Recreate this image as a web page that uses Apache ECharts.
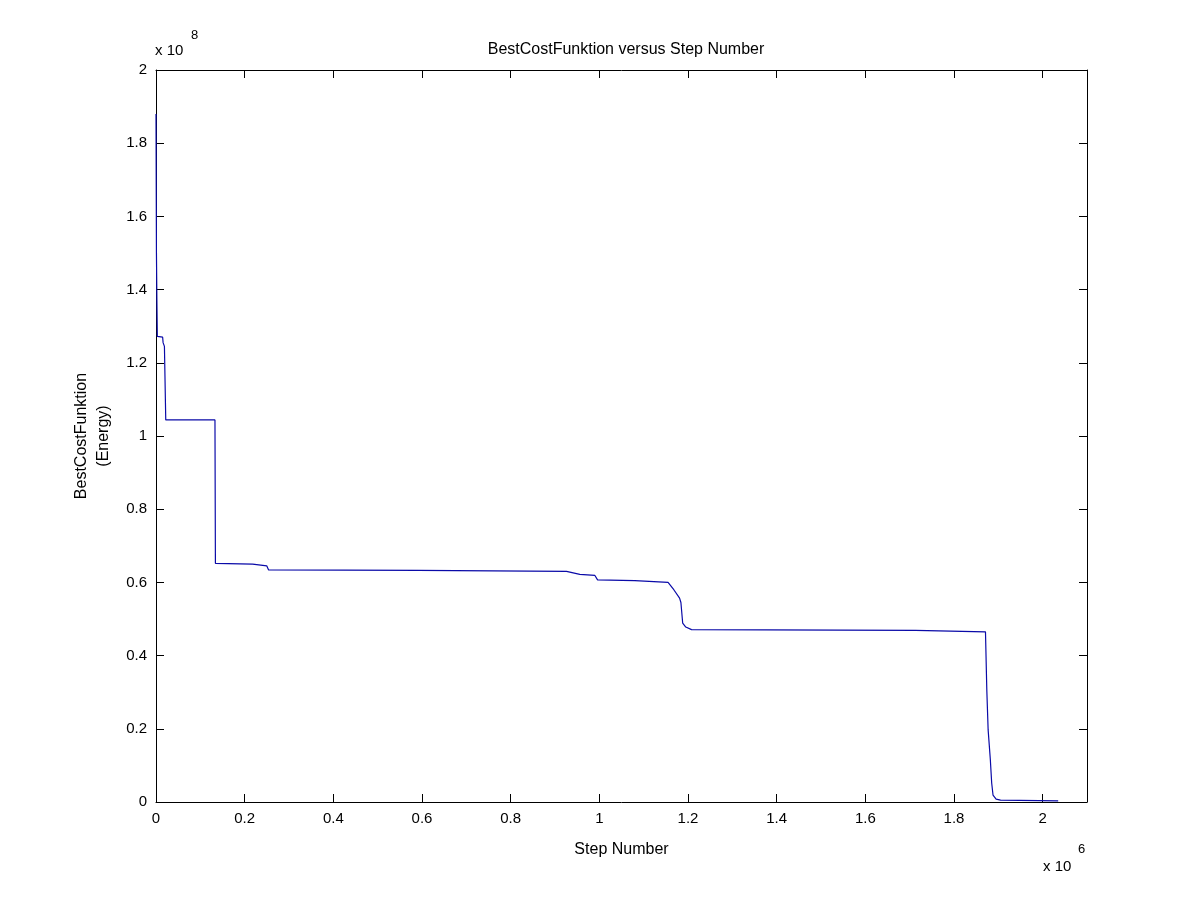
<!DOCTYPE html>
<html>
<head>
<meta charset="utf-8">
<script src="https://cdn.jsdelivr.net/npm/echarts@6/dist/echarts.min.js"></script>
<style>html,body{margin:0;padding:0;background:#fff}#c{width:1200px;height:900px}</style>
</head>
<body>
<div id="c"></div>
<script>
// Step number (x 10^6)
var stepNumber = [0, 0.001, 0.002, 0.003, 0.015, 0.016, 0.019, 0.021, 0.022, 0.133, 0.134, 0.218, 0.222, 0.250, 0.254, 0.592, 0.594, 0.926, 0.930, 0.956, 0.990, 0.996, 1.080, 1.082, 1.155, 1.168, 1.181, 1.184, 1.188, 1.195, 1.208, 1.713, 1.715, 1.871, 1.874, 1.877, 1.882, 1.885, 1.888, 1.895, 1.905, 2.035];
// BestCostFunktion (x 10^8)
var bestCost = [1.88, 1.50, 1.37, 1.272, 1.270, 1.255, 1.245, 1.24, 1.044, 1.044, 0.652, 0.650, 0.647, 0.645, 0.634, 0.633, 0.631, 0.630, 0.626, 0.622, 0.619, 0.607, 0.605, 0.602, 0.600, 0.580, 0.557, 0.545, 0.489, 0.478, 0.471, 0.469, 0.466, 0.465, 0.306, 0.197, 0.115, 0.052, 0.019, 0.008, 0.005, 0.003];
var titleText = 'BestCostFunktion versus Step Number';
var xName = 'Step Number';
var yName = 'BestCostFunktion\n(Energy)';

var pts = stepNumber.map(function (x, i) { return [x, bestCost[i]]; });
var font = 'Liberation Sans, Arial, Helvetica, sans-serif';
function fmt(v) {
  var r = Math.round(v * 5) / 5;
  if (Math.abs(v - r) > 1e-6) return '';
  return String(Math.round(r * 10) / 10);
}
var chart = echarts.init(document.getElementById('c'));
var lineStyle = { color: '#000', width: 1 };
chart.setOption({
  animation: false,
  backgroundColor: '#fff',
  title: {
    text: titleText, left: 621, top: 37, textAlign: 'center',
    textStyle: { fontFamily: font, fontSize: 16, fontWeight: 'normal', color: '#000' }
  },
  grid: { left: 156, right: 113, top: 70, bottom: 98 },
  xAxis: [{
    type: 'value', min: 0, max: 2.1, interval: 0.2, position: 'bottom',
    name: xName, nameLocation: 'middle', nameGap: 40,
    nameTextStyle: { fontFamily: font, fontSize: 16, color: '#000' },
    axisLine: { show: true, onZero: false, lineStyle: lineStyle },
    axisTick: { show: true, inside: true, length: 8, lineStyle: lineStyle },
    axisLabel: { fontFamily: font, fontSize: 15, color: '#000', margin: 9, formatter: fmt },
    splitLine: { show: false }
  }, {
    type: 'value', min: 0, max: 2.1, interval: 0.2, position: 'top',
    axisLine: { show: true, onZero: false, lineStyle: lineStyle },
    axisTick: { show: true, inside: true, length: 8, lineStyle: lineStyle },
    axisLabel: { show: false }, splitLine: { show: false }
  }],
  yAxis: [{
    type: 'value', min: 0, max: 2, interval: 0.2, position: 'left',
    name: yName, nameLocation: 'middle', nameGap: 41, nameRotate: 90,
    nameTextStyle: { fontFamily: font, fontSize: 16, color: '#000', lineHeight: 22 },
    axisLine: { show: true, onZero: false, lineStyle: lineStyle },
    axisTick: { show: true, inside: true, length: 8, lineStyle: lineStyle },
    axisLabel: { fontFamily: font, fontSize: 15, color: '#000', margin: 9, formatter: fmt },
    splitLine: { show: false }
  }, {
    type: 'value', min: 0, max: 2, interval: 0.2, position: 'right',
    axisLine: { show: true, onZero: false, lineStyle: lineStyle },
    axisTick: { show: true, inside: true, length: 8, lineStyle: lineStyle },
    axisLabel: { show: false }, splitLine: { show: false }
  }],
  graphic: [
    { type: 'text', left: 155, top: 43, style: { text: 'x 10', font: '15px ' + font, fill: '#000' } },
    { type: 'text', left: 191, top: 29, style: { text: '8', font: '13px ' + font, fill: '#000' } },
    { type: 'text', left: 1043, top: 859, style: { text: 'x 10', font: '15px ' + font, fill: '#000' } },
    { type: 'text', left: 1078, top: 843, style: { text: '6', font: '13px ' + font, fill: '#000' } }
  ],
  series: [{
    type: 'line', data: pts, xAxisIndex: 0, yAxisIndex: 0,
    showSymbol: false, symbol: 'none',
    lineStyle: { color: '#0a0aa8', width: 1.2 }
  }]
});
</script>
</body>
</html>
